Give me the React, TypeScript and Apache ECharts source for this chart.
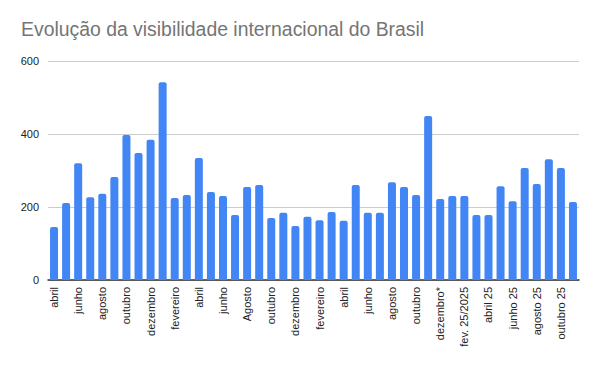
import React, { useEffect, useRef } from "react";
import * as echarts from "echarts";

const categories = [
  "abril", "maio", "junho", "julho", "agosto", "setembro", "outubro", "novembro",
  "dezembro", "janeiro", "fevereiro", "março", "abril", "maio", "junho", "julho",
  "Agosto", "setembro", "outubro", "novembro", "dezembro", "janeiro", "fevereiro", "março",
  "abril", "maio", "junho", "julho", "agosto", "setembro", "outubro", "novembro",
  "dezembro*", "janeiro 25", "fev. 25/2025", "março 25", "abril 25", "maio 25", "junho 25", "julho 25",
  "agosto 25", "setembro 25", "outubro 25", "novembro 25",
];

const values = [
  145, 211, 320, 227, 236, 282, 397, 348, 384, 542, 225, 233, 334, 241, 230, 178,
  255, 260, 170, 184, 148, 173, 164, 186, 162, 260, 184, 184, 268, 255, 233, 449,
  222, 230, 230, 178, 178, 257, 216, 307, 263, 331, 307, 214,
];

const yTicks = { min: 0, max: 600, interval: 200 };

export default function App() {
  const ref = useRef<HTMLDivElement>(null);
  useEffect(() => {
    if (!ref.current) return;
    const chart = echarts.init(ref.current, undefined, { renderer: "svg" });
    chart.setOption({
      animation: false,
      backgroundColor: "#ffffff",
      title: {
        text: "Evolução da visibilidade internacional do Brasil",
        left: 21,
        top: 19,
        padding: 0,
        textStyle: {
          fontFamily: "Liberation Sans, Arial, sans-serif",
          fontSize: 19.4,
          fontWeight: "normal",
          color: "#757575",
        },
      },
      grid: { left: 48, right: 21, top: 61, bottom: 91, containLabel: false },
      xAxis: {
        type: "category",
        data: categories,
        axisLine: { show: true, lineStyle: { color: "#333333", width: 1.5 } },
        axisTick: { show: false },
        axisLabel: {
          interval: 1,
          rotate: 90,
          margin: 7,
          fontFamily: "Liberation Sans, Arial, sans-serif",
          fontSize: 11,
          color: "#222222",
        },
      },
      yAxis: {
        type: "value",
        min: yTicks.min,
        max: yTicks.max,
        interval: yTicks.interval,
        axisLine: { show: false },
        axisTick: { show: false },
        splitLine: { lineStyle: { color: "#cccccc", width: 1 } },
        axisLabel: {
          margin: 9,
          fontFamily: "Liberation Sans, Arial, sans-serif",
          fontSize: 11,
          color: "#222222",
        },
      },
      series: [
        {
          type: "bar",
          data: values,
          barWidth: 8,
          itemStyle: { color: "#4285F4", borderRadius: [2, 2, 0, 0] },
        },
      ],
    });
    return () => chart.dispose();
  }, []);
  return <div ref={ref} style={{ width: 600, height: 371, margin: -8 }} />;
}
